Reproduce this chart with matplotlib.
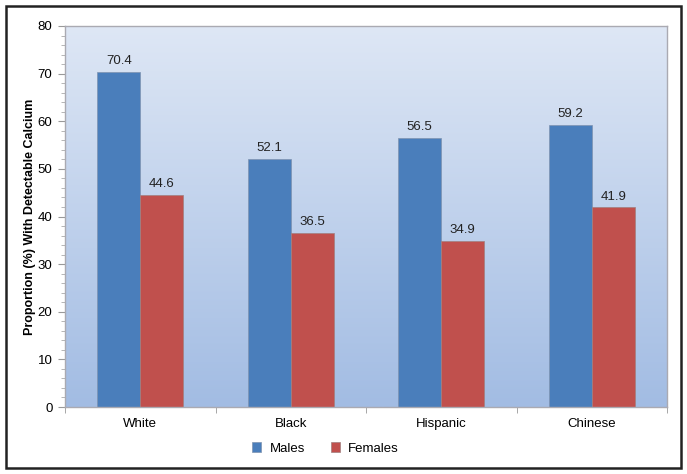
import matplotlib
matplotlib.use("Agg")
import matplotlib.pyplot as plt
import numpy as np
from matplotlib.patches import Rectangle
from matplotlib.colors import LinearSegmentedColormap
from matplotlib.ticker import MultipleLocator

categories = ["White", "Black", "Hispanic", "Chinese"]
males = [70.4, 52.1, 56.5, 59.2]
females = [44.6, 36.5, 34.9, 41.9]
series_names = ["Males", "Females"]

plt.rcParams['font.family'] = ['Liberation Sans', 'DejaVu Sans']

fig = plt.figure(figsize=(6.87, 4.74), dpi=100)
ax = fig.add_axes([65/687, 67/474, 602/687, 381/474])

x = np.arange(len(categories))
w = 0.286
blue = "#4a7ebb"
red = "#c0504d"

# gradient background
cmap = LinearSegmentedColormap.from_list("bg", ["#a2bce3", "#dee7f5"])
grad = np.linspace(0, 1, 256).reshape(-1, 1)
ax.imshow(grad, aspect="auto", cmap=cmap, origin="lower",
          extent=[0, 1, 0, 1], transform=ax.transAxes, zorder=0)

b1 = ax.bar(x - w/2, males, w, color=blue, edgecolor="#7f93b0", linewidth=0.5, zorder=2, label=series_names[0])
b2 = ax.bar(x + w/2, females, w, color=red, edgecolor="#a08080", linewidth=0.5, zorder=2, label=series_names[1])

for bars, vals in ((b1, males), (b2, females)):
    for r, v in zip(bars, vals):
        ax.text(r.get_x() + r.get_width()/2, v + 1.0, f"{v:.1f}", ha="center", va="bottom",
                fontsize=9.5, color="#222222", zorder=3)

ax.set_xlim(-0.5, len(categories) - 0.5)
ax.set_ylim(0, 80)
ax.yaxis.set_major_locator(MultipleLocator(10))
ax.yaxis.set_minor_locator(MultipleLocator(2))
ax.set_xticks(x)
ax.set_xticklabels(categories)
ax.set_xticks(np.arange(-0.5, len(categories)), minor=True)
ax.tick_params(axis="x", which="major", length=0, pad=8, labelsize=9.5)
ax.tick_params(axis="x", which="minor", length=4, color="#999999", direction="out")
ax.tick_params(axis="y", which="major", length=5, color="#999999", labelsize=9.5, pad=4)
ax.tick_params(axis="y", which="minor", length=3, color="#aaaaaa")
for s in ax.spines.values():
    s.set_color("#aaaab2")
    s.set_linewidth(1.0)

ax.set_ylabel("Proportion (%) With Detectable Calcium", fontsize=9, fontweight="bold", labelpad=1)

ax.legend(loc="upper center", bbox_to_anchor=(0.433, -0.062), ncol=2, frameon=False,
          fontsize=9.5, handlelength=0.7, handleheight=0.7, columnspacing=2.0, handletextpad=0.6)

fig.patches.append(Rectangle((6/687, 6/474), 675/687, 462/474, transform=fig.transFigure,
                             fill=False, edgecolor="#222222", linewidth=1.8))

fig.savefig("out.png", dpi=100)
